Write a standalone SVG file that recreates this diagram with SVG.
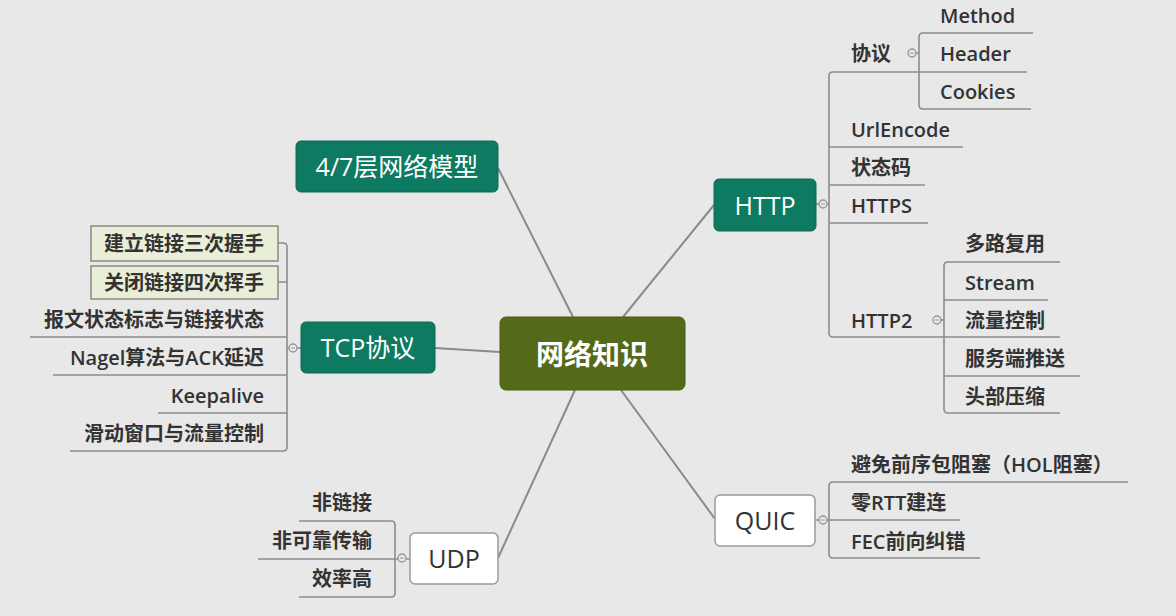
<svg xmlns="http://www.w3.org/2000/svg" width="1176" height="616" viewBox="0 0 1176 616">
<style>
.bg{fill:#e8e8e8}
.line{fill:none;stroke:#8c8c8c;stroke-width:1.6}
.main{fill:none;stroke:#8a8a8a;stroke-width:2}
.circ{fill:#e8e8e8;stroke:#999;stroke-width:1.4}
.minus{stroke:#999;stroke-width:1}
.teal{fill:#0e7a61;stroke:#0b6a54;stroke-width:1}
.olive{fill:#556a19;stroke:#4a5d15;stroke-width:1}
.white{fill:#ffffff;stroke:#9a9a9a;stroke-width:1.5}
.tbox{fill:#e9eed8;stroke:#8a8a80;stroke-width:1.5}
.t{font-family:"Open Sans","Noto Sans CJK SC",sans-serif;font-size:20px;font-weight:600;fill:#333;dominant-baseline:central}
.tn{font-family:"Open Sans","Noto Sans CJK SC",sans-serif;font-size:25px;font-weight:400;dominant-baseline:central;text-anchor:middle}
.tc{font-family:"Open Sans","Noto Sans CJK SC",sans-serif;font-size:28px;font-weight:700;fill:#fff;dominant-baseline:central;text-anchor:middle}
.w{fill:#ffffff}
.d{fill:#333}
.r{text-anchor:end}
.m{text-anchor:middle}
</style>
<rect class="bg" x="0" y="0" width="1176" height="616"/>
<g id="connectors">
<line class="main" x1="498" y1="168" x2="573" y2="317"/>
<line class="main" x1="623" y1="317" x2="714" y2="205"/>
<line class="main" x1="435" y1="348" x2="500" y2="352"/>
<line class="main" x1="498" y1="558" x2="575" y2="390"/>
<line class="main" x1="621" y1="390" x2="715" y2="519"/>
<path class="line" d="M816 204 H829 M919 72 H833 Q829 72 829 76 V333 Q829 337 833 337 H944 M829 147 H963 M829 185 H925 M829 223 H928"/>
<path class="line" d="M1033 33 H923 Q919 33 919 37 V105 Q919 109 923 109 H1031 M919 72 H1027 M916 53 H919"/>
<path class="line" d="M1060 262 H948 Q944 262 944 266 V409 Q944 413 948 413 H1060 M944 300 H1048 M944 337 H1060 M944 376 H1080 M941 320 H944"/>
<path class="line" d="M278 243 H283 Q287 243 287 247 V447 Q287 451 283 451 H70 M278 282 H287 M30 337 H287 M53 375 H287 M158 413 H287 M287 348 H301"/>
<path class="line" d="M299 521 H391 Q395 521 395 525 V593 Q395 597 391 597 H299 M258 559 H410"/>
<path class="line" d="M1128 482 H833 Q829 482 829 486 V554 Q829 558 833 558 H980 M815 520 H960"/>
<circle class="circ" cx="823" cy="204" r="4"/><line class="minus" x1="821" y1="204" x2="825" y2="204"/>
<circle class="circ" cx="912" cy="53" r="4"/><line class="minus" x1="910" y1="53" x2="914" y2="53"/>
<circle class="circ" cx="937" cy="320" r="4"/><line class="minus" x1="935" y1="320" x2="939" y2="320"/>
<circle class="circ" cx="293" cy="348" r="4"/><line class="minus" x1="291" y1="348" x2="295" y2="348"/>
<circle class="circ" cx="402" cy="558" r="4"/><line class="minus" x1="400" y1="558" x2="404" y2="558"/>
<circle class="circ" cx="823" cy="520" r="4"/><line class="minus" x1="821" y1="520" x2="825" y2="520"/>
</g>
<g id="center">
<rect class="olive" x="500" y="317" width="185" height="73" rx="6"/>
<text class="tc" x="592" y="354">网络知识</text>
</g>
<g id="model">
<rect class="teal" x="296" y="141" width="202" height="51" rx="5"/>
<text class="tn w" x="397" y="166">4/7层网络模型</text>
</g>
<g id="tcp">
<rect class="teal" x="301" y="322" width="134" height="51" rx="5"/>
<text class="tn w" x="368" y="347">TCP协议</text>
</g>
<g id="http">
<rect class="teal" x="714" y="179" width="102" height="52" rx="5"/>
<text class="tn w" x="765" y="205">HTTP</text>
</g>
<g id="quic">
<rect class="white" x="715" y="495" width="100" height="51" rx="5"/>
<text class="tn d" x="765" y="520">QUIC</text>
</g>
<g id="udp">
<rect class="white" x="410" y="533" width="88" height="51" rx="5"/>
<text class="tn d" x="454" y="558">UDP</text>
</g>
<g id="http-children">
<text class="t" x="851" y="53">协议</text>
<text class="t" x="940" y="15">Method</text>
<text class="t" x="940" y="53">Header</text>
<text class="t" x="940" y="91">Cookies</text>
<text class="t" x="851" y="129">UrlEncode</text>
<text class="t" x="851" y="167">状态码</text>
<text class="t" x="851" y="205">HTTPS</text>
<text class="t" x="851" y="320">HTTP2</text>
<text class="t" x="965" y="243">多路复用</text>
<text class="t" x="965" y="282">Stream</text>
<text class="t" x="965" y="320">流量控制</text>
<text class="t" x="965" y="358">服务端推送</text>
<text class="t" x="965" y="396">头部压缩</text>
</g>
<g id="quic-children">
<text class="t" x="851" y="464">避免前序包阻塞（HOL阻塞）</text>
<text class="t" x="851" y="502">零RTT建连</text>
<text class="t" x="851" y="541">FEC前向纠错</text>
</g>
<g id="tcp-children">
<rect class="tbox" x="91" y="226" width="187" height="35"/>
<text class="t m" x="184" y="243">建立链接三次握手</text>
<rect class="tbox" x="91" y="266" width="187" height="33"/>
<text class="t m" x="184" y="282">关闭链接四次挥手</text>
<text class="t r" x="264" y="319">报文状态标志与链接状态</text>
<text class="t r" x="264" y="357">Nagel算法与ACK延迟</text>
<text class="t r" x="264" y="395">Keepalive</text>
<text class="t r" x="264" y="433">滑动窗口与流量控制</text>
</g>
<g id="udp-children">
<text class="t r" x="372" y="502">非链接</text>
<text class="t r" x="372" y="540">非可靠传输</text>
<text class="t r" x="372" y="578">效率高</text>
</g>
</svg>
